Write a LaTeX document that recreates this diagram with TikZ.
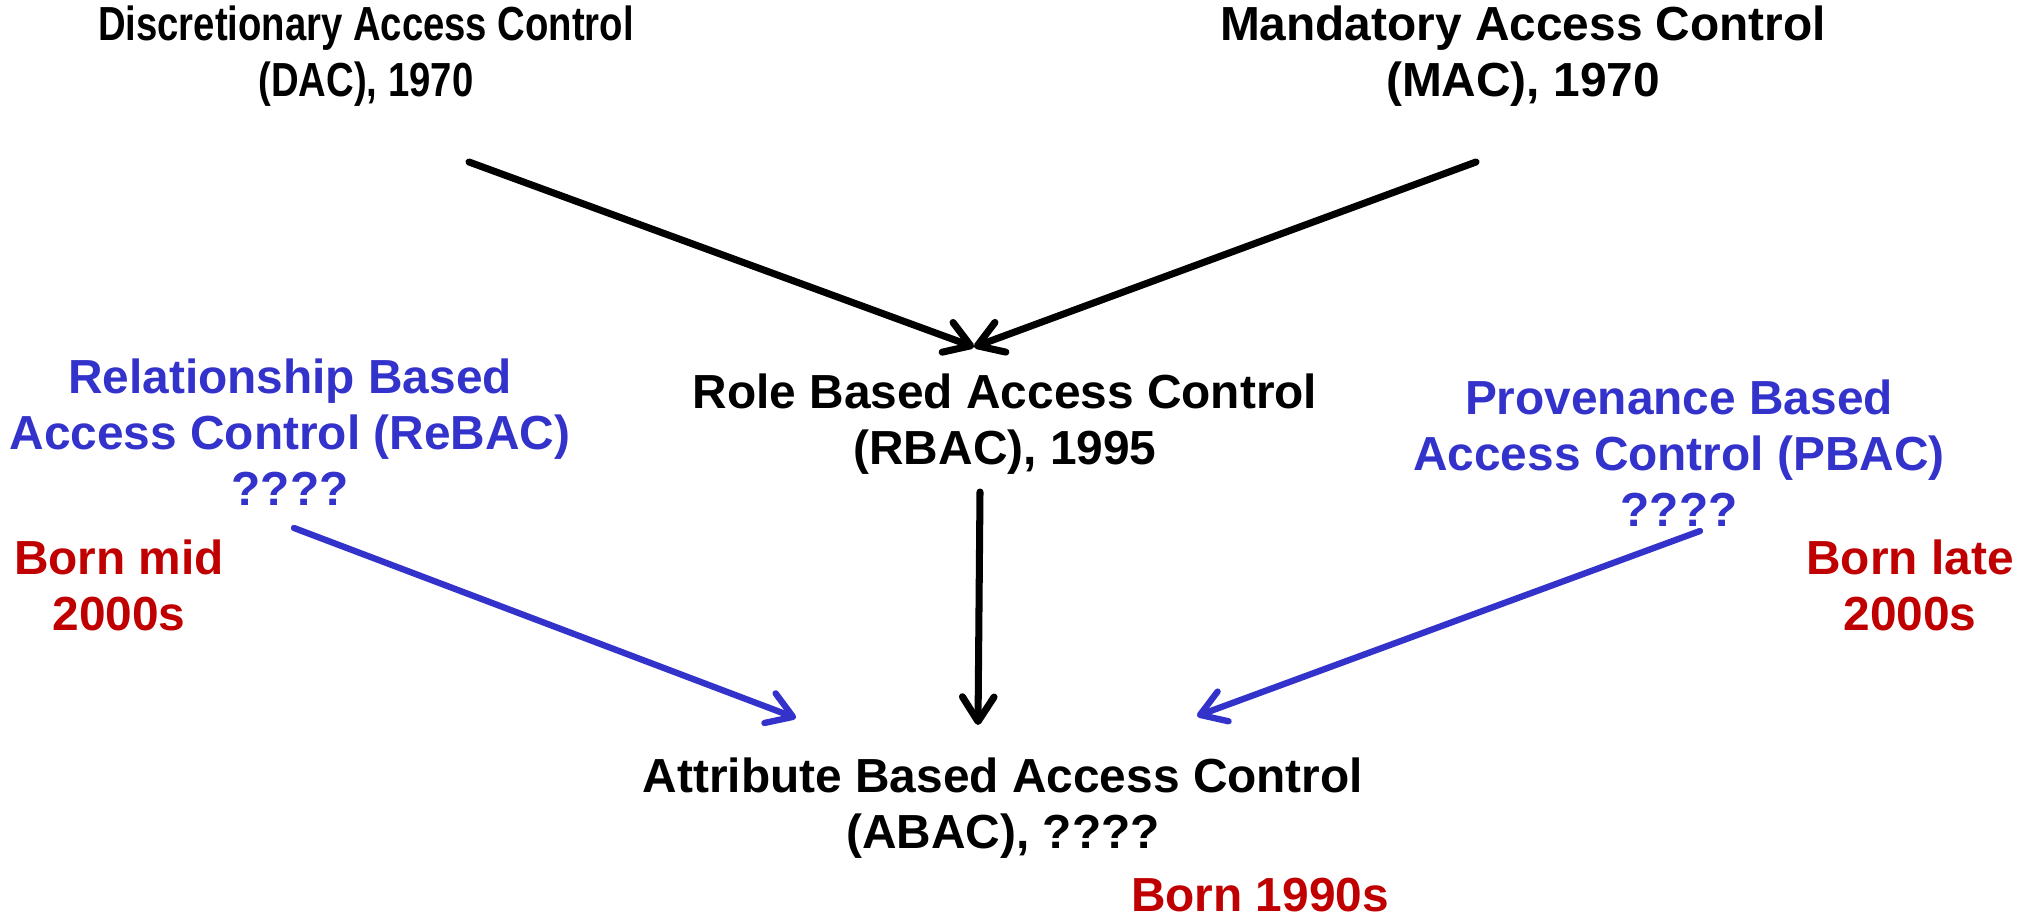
\documentclass[tikz,border=0pt]{standalone}
\usepackage{fontspec}
\setmainfont{Liberation Sans}
\usepackage{xcolor}
\usetikzlibrary{positioning,arrows.meta}
\definecolor{modelblue}{RGB}{51,51,204}
\definecolor{bornred}{RGB}{192,0,0}
\tikzset{
    model/.style={
           align=center,
           inner sep=0pt,
           font=\fontsize{13.6pt}{15.9pt}\selectfont\bfseries,
           },
    narrow/.style={model, xscale=0.8, transform shape},
    newmodel/.style={model, text=modelblue},
    born/.style={model, text=bornred},
    flow/.style={
           line width=2pt, line cap=round,
           -{Straight Barb[length=7pt,width=9pt,line cap=round,line join=round]},
           },
    newflow/.style={flow, draw=modelblue, line width=1.8pt},
}

\begin{document}
\begin{tikzpicture}[x=0.01cm,y=-0.01cm]
 \useasboundingbox (0,0) rectangle (2030,921);

 % classic models
 \node[narrow] (DAC) at (366,56) {Discretionary Access Control\\ (DAC), 1970};
 \node[model] (MAC) at (1523,56) {Mandatory Access Control\\ (MAC), 1970};
 \node[model] (RBAC) at (1005,424) {Role Based Access Control\\ (RBAC), 1995};
 \node[model] (ABAC) at (1003,808) {Attribute Based Access Control\\ (ABAC), ????};

 % newer models
 \node[newmodel] (ReBAC) at (290,432)
 {Relationship Based\\ Access Control (ReBAC)\\ ????};
 \node[newmodel] (PBAC) at (1679,453)
 {Provenance Based\\ Access Control (PBAC)\\ ????};

 % dates
 \node[born] (bornReBAC) at (119,585) {Born mid\\ 2000s};
 \node[born] (bornPBAC) at (1910,585) {Born late\\ 2000s};
 \node[born] (bornABAC) at (1260,895) {Born 1990s};

 \draw[flow] ([shift={(103,106)}]DAC.center) -- ([shift={(-31,-77)}]RBAC.center);
 \draw[flow] ([shift={(-47,106)}]MAC.center) -- ([shift={(-31,-77)}]RBAC.center);
 \draw[flow] ([shift={(-25,68)}]RBAC.center) -- ([shift={(-25,-83)}]ABAC.center);
 \draw[newflow] ([shift={(4,96)}]ReBAC.center) -- ([shift={(-207,-90)}]ABAC.center);
 \draw[newflow] ([shift={(21,78)}]PBAC.center) -- ([shift={(194,-92)}]ABAC.center);

\end{tikzpicture}
\end{document}
